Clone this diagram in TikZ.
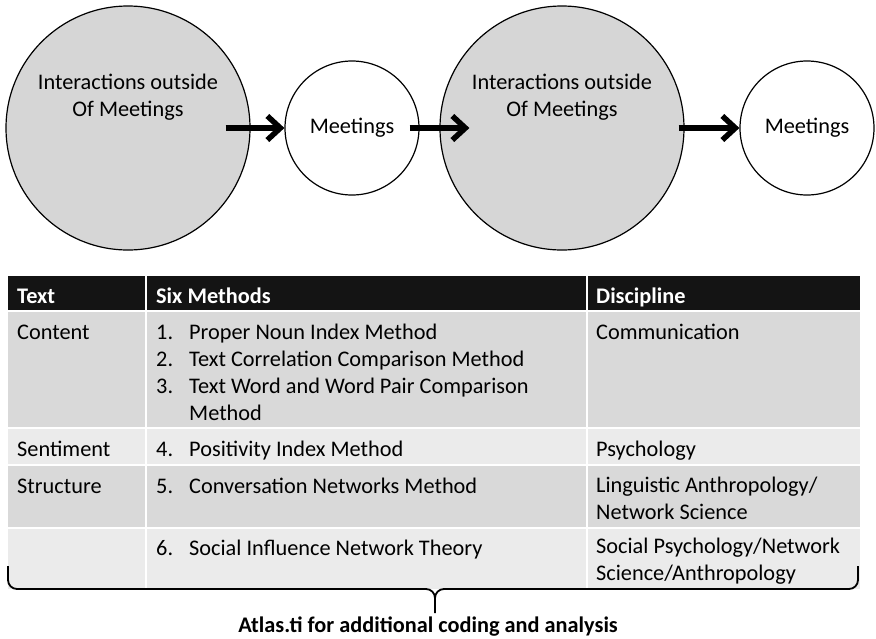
\documentclass[tikz,border=0pt]{standalone}
\usepackage{fontspec}
\setmainfont{Carlito}
\usetikzlibrary{arrows.meta, positioning}
\definecolor{circgray}{HTML}{D6D6D6}
\definecolor{headblack}{HTML}{141414}
\definecolor{rowdark}{HTML}{D9D9D9}
\definecolor{rowlight}{HTML}{EBEBEB}
\newcommand{\numbox}[1]{\makebox[33pt][l]{#1}}

\begin{document}
\begin{tikzpicture}[x=1pt, y=-1pt,
    every node/.style={font=\fontsize{22.3}{26.5}\selectfont, inner sep=0pt},
    bigcirc/.style={circle, draw, line width=1.2pt, fill=circgray, minimum size=244pt},
    smallcirc/.style={circle, draw, line width=1.2pt, fill=white, minimum size=134pt},
    flowarrow/.style={line width=5.5pt, -{Straight Barb[length=13pt, width=24pt]}},
    celltext/.style={anchor=base west, align=left},
    headtext/.style={anchor=base west, text=white, font=\fontsize{22.3}{26.5}\selectfont\bfseries}]
        \useasboundingbox (0,0) rectangle (876,638);

        \node[bigcirc] at (128,128) (big1) {};
        \node[smallcirc] at (352,128) (small1) {Meetings};
        \node[bigcirc] at (562,128) (big2) {};
        \node[smallcirc] at (807,128) (small2) {Meetings};
        \node[align=center] at ([yshift=31pt]big1.center) (inter1) {Interactions outside\\Of Meetings};
        \node[align=center] at ([yshift=31pt]big2.center) (inter2) {Interactions outside\\Of Meetings};

        \draw[flowarrow] ([xshift=-25pt]big1.east) -- (small1.west);
        \draw[flowarrow] ([xshift=-10pt]small1.east) -- ([xshift=30pt]big2.west);
        \draw[flowarrow] ([xshift=-6pt]big2.east) -- (small2.west);

        \fill[headblack] (8,276) rectangle (860,311);
        \fill[rowdark] (8,311) rectangle (860,428);
        \fill[rowlight] (8,428) rectangle (860,465);
        \fill[rowdark] (8,465) rectangle (860,528);
        \fill[rowlight] (8,528) rectangle (860,589);
        \draw[white, line width=2pt] (8,311) -- (860,311)
            (8,428) -- (860,428)
            (8,465) -- (860,465)
            (8,528) -- (860,528)
            (146,276) -- (146,589)
            (587,276) -- (587,589);

        \node[headtext] at (17,303) (htext) {Text};
        \node[headtext] at (156,303) (hmeth) {Six Methods};
        \node[headtext] at (596,303) (hdisc) {Discipline};

        \node[celltext] at (17,339) (content) {Content};
        \node[celltext, font=\fontsize{22.3}{27}\selectfont] at (156,420) (meth1) {\numbox{1.}Proper Noun Index Method\\\numbox{2.}Text Correlation Comparison Method\\\numbox{3.}Text Word and Word Pair Comparison\\\numbox{}Method};
        \node[celltext] at (596,339) (disc1) {Communication};

        \node[celltext] at (17,456) (sentiment) {Sentiment};
        \node[celltext] at (156,456) (meth4) {\numbox{4.}Positivity Index Method};
        \node[celltext] at (596,456) (disc2) {Psychology};

        \node[celltext] at (17,493) (structure) {Structure};
        \node[celltext] at (156,493) (meth5) {\numbox{5.}Conversation Networks Method};
        \node[celltext] at (596,519) (disc3) {Linguistic Anthropology/\\Network Science};

        \node[celltext] at (156,555) (meth6) {\numbox{6.}Social Influence Network Theory};
        \node[celltext] at (596,580) (disc4) {Social Psychology/Network\\Science/Anthropology};

        \draw[line width=1.8pt, rounded corners=9pt] (8,566) -- (8,589) -- (435,589) -- (435,613)
            (858,566) -- (858,589) -- (435,589) -- (435,613);
        \node[anchor=base, font=\fontsize{22.3}{26.5}\selectfont\bfseries] at (428,632) (atlas) {Atlas.ti for additional coding and analysis};
    \end{tikzpicture}
\end{document}
